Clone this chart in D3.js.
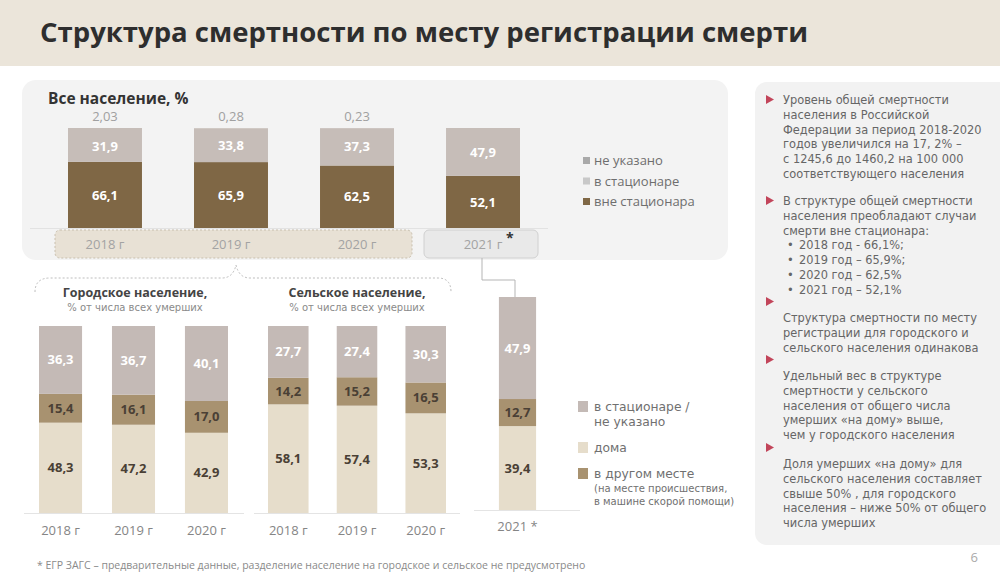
<!DOCTYPE html>
<html><head><meta charset="utf-8">
<script src="https://cdn.jsdelivr.net/npm/d3@7"></script>
<style>
html,body{margin:0;padding:0;background:#fff;}
svg{display:block;font-family:"Open Sans","Noto Sans",sans-serif;}
.dv{font-family:"DejaVu Sans",sans-serif;}
</style></head>
<body>
<svg id="c" width="1000" height="581"></svg>
<script>
// ---------- DATA ----------
const topYears = ["2018 г", "2019 г", "2020 г", "2021 г"];
const topOutside = [66.1, 65.9, 62.5, 52.1];      // вне стационара
const topHospital = [31.9, 33.8, 37.3, 47.9];     // в стационаре
const topUnspecified = [2.03, 0.28, 0.23, 0];     // не указано
const topUnspecifiedLabels = ["2,03", "0,28", "0,23", ""];

const subYears = ["2018 г", "2019 г", "2020 г"];
const urbanHome = [48.3, 47.2, 42.9];
const urbanOther = [15.4, 16.1, 17.0];
const urbanHospital = [36.3, 36.7, 40.1];
const ruralHome = [58.1, 57.4, 53.3];
const ruralOther = [14.2, 15.2, 16.5];
const ruralHospital = [27.7, 27.4, 30.3];
const y2021Label = ["2021 *"];
const home2021 = [39.4];
const other2021 = [12.7];
const hospital2021 = [47.9];

const topLegend = ["не указано", "в стационаре", "вне стационара"];
const subLegend = [["в стационаре /", "не указано"], ["дома"], ["в другом месте"]];
const subLegendNote = ["(на месте происшествия,", "в машине скорой помощи)"];

const notes = [
  ["Уровень общей смертности", "населения в Российской", "Федерации за период 2018-2020", "годов увеличился на 17, 2%  –", "с 1245,6 до 1460,2 на 100 000", "соответствующего населения"],
  ["В структуре общей смертности", "населения преобладают случаи", "смерти вне стационара:"],
  ["Структура смертности по месту", "регистрации для городского и", "сельского населения одинакова"],
  ["Удельный вес в структуре", "смертности у сельского", "населения от общего числа", "умерших «на дому» выше,", "чем у городского населения"],
  ["Доля умерших «на дому» для", "сельского населения составляет", "свыше 50% , для городского", "населения – ниже 50% от общего", "числа умерших"]
];
const bulletItems = ["2018 год - 66,1%;", "2019 год – 65,9%;", "2020 год – 62,5%", "2021 год – 52,1%"];

// ---------- STYLE ----------
const C = {
  outside: "#7f6745", hospital: "#c6bdb8",
  home: "#e6ddcb", other: "#a89270", subHosp: "#c4bab6",
  darkText: "#4a4035"
};
const fmt = v => String(v.toFixed(1)).replace(".", ",");

const svg = d3.select("#c");

// title band
svg.append("rect").attr("x", 0).attr("y", 0).attr("width", 1000).attr("height", 66).attr("fill", "#ebe5da");
svg.append("text").attr("x", 40).attr("y", 42).attr("font-size", 27.5).attr("font-weight", 700)
  .attr("fill", "#2e2e2e").text("Структура смертности по месту регистрации смерти");

// panels
svg.append("rect").attr("x", 22).attr("y", 80).attr("width", 706).attr("height", 180).attr("rx", 14).attr("fill", "#f3f3f3");
svg.append("rect").attr("x", 755).attr("y", 82).attr("width", 260).attr("height", 463).attr("rx", 12).attr("fill", "#f2f2f2");

svg.append("text").attr("x", 48).attr("y", 104).attr("font-size", 15.5).attr("font-weight", 700)
  .attr("fill", "#333").text("Все население, %");

// ---------- TOP CHART ----------
const xTop = d3.scaleBand().domain(topYears).range([68, 520]).paddingInner(0.413).paddingOuter(0);
const yTop = d3.scaleLinear().domain([0, 100]).range([228, 128]);

// year label boxes
svg.append("rect").attr("x", 55).attr("y", 230).attr("width", 357).attr("height", 28).attr("rx", 5)
  .attr("fill", "#e8e1d5").attr("stroke", "#c8bfae").attr("stroke-dasharray", "2,2");
svg.append("rect").attr("x", 424).attr("y", 230).attr("width", 114).attr("height", 28).attr("rx", 5)
  .attr("fill", "#e9e9e9").attr("stroke", "#d0d0d0");

svg.append("line").attr("x1", 30).attr("x2", 548).attr("y1", 228.5).attr("y2", 228.5).attr("stroke", "#e2e2e2");

const topG = svg.append("g");
topYears.forEach((yr, i) => {
  const x = xTop(yr), w = xTop.bandwidth();
  const a = topOutside[i], b = topHospital[i], c = topUnspecified[i];
  topG.append("rect").attr("x", x).attr("y", yTop(a)).attr("width", w).attr("height", yTop(0) - yTop(a)).attr("fill", C.outside);
  topG.append("rect").attr("x", x).attr("y", yTop(a + b)).attr("width", w).attr("height", yTop(a) - yTop(a + b)).attr("fill", C.hospital);
  if (c > 0) topG.append("rect").attr("x", x).attr("y", yTop(Math.min(100, a + b + c))).attr("width", w)
    .attr("height", Math.max(0, yTop(a + b) - yTop(Math.min(100, a + b + c)))).attr("fill", C.hospital);
  const cx = x + w / 2;
  topG.append("text").attr("x", cx).attr("y", (yTop(0) + yTop(a)) / 2).attr("dy", "0.35em").attr("text-anchor", "middle")
    .attr("font-size", 13).attr("font-weight", 700).attr("fill", "#fff").text(fmt(a));
  topG.append("text").attr("x", cx).attr("y", (yTop(a) + yTop(a + b)) / 2).attr("dy", "0.35em").attr("text-anchor", "middle")
    .attr("font-size", 13).attr("font-weight", 700).attr("fill", "#fff").text(fmt(b));
  if (topUnspecifiedLabels[i]) topG.append("text").attr("x", cx).attr("y", 121).attr("text-anchor", "middle")
    .attr("font-size", 13).attr("fill", "#a0a0a0").text(topUnspecifiedLabels[i]);
  topG.append("text").attr("x", cx).attr("y", 249).attr("text-anchor", "middle").attr("font-size", 13)
    .attr("fill", "#a3a3a3").text(yr);
});
svg.append("text").attr("x", 506).attr("y", 243).attr("font-size", 14).attr("font-weight", 700).attr("fill", "#333").text("*");

// top legend
const topLegColors = ["#a9a9a9", "#c8c8c8", C.outside];
topLegend.forEach((t, i) => {
  const y = 165 + i * 20.5;
  svg.append("rect").attr("x", 583).attr("y", y - 8).attr("width", 7).attr("height", 7).attr("fill", topLegColors[i]);
  svg.append("text").attr("x", 594).attr("y", y).attr("font-size", 13).attr("fill", "#6e6e6e").text(t);
});

// bracket and connector
svg.append("path")
  .attr("d", "M35,292 Q35,278 50,278 L222,278 Q233,278 236,265 Q239,278 250,278 L438,278 Q451,278 451,292")
  .attr("fill", "none").attr("stroke", "#bdbdbd").attr("stroke-width", 1).attr("stroke-dasharray", "2,2");
svg.append("path").attr("d", "M482,258 L482,280 L515,280 L515,297")
  .attr("fill", "none").attr("stroke", "#b5b5b5").attr("stroke-width", 1);

// ---------- SUB CHARTS ----------
const ySub = d3.scaleLinear().domain([0, 100]).range([513, 326]);
function stackChart(years, home, other, hosp, xRange, yScale, lineRange, labelY) {
  const xs = d3.scaleBand().domain(years).range(xRange).paddingInner(0.41).paddingOuter(0);
  const g = svg.append("g");
  g.append("line").attr("x1", lineRange[0]).attr("x2", lineRange[1]).attr("y1", yScale(0) + 0.5).attr("y2", yScale(0) + 0.5).attr("stroke", "#e4e4e4");
  years.forEach((yr, i) => {
    const x = xs(yr), w = xs.bandwidth(), cx = x + w / 2;
    const h = home[i], o = other[i], s = hosp[i];
    g.append("rect").attr("x", x).attr("y", yScale(h)).attr("width", w).attr("height", yScale(0) - yScale(h)).attr("fill", C.home);
    g.append("rect").attr("x", x).attr("y", yScale(h + o)).attr("width", w).attr("height", yScale(h) - yScale(h + o)).attr("fill", C.other);
    g.append("rect").attr("x", x).attr("y", yScale(100)).attr("width", w).attr("height", yScale(h + o) - yScale(100)).attr("fill", C.subHosp);
    const lab = (y0, y1, v, col) => g.append("text").attr("x", cx).attr("y", (yScale(y0) + yScale(y1)) / 2).attr("dy", "0.35em")
      .attr("text-anchor", "middle").attr("font-size", 13).attr("font-weight", 700).attr("fill", col).text(fmt(v));
    lab(0, h, h, C.darkText);
    lab(h, h + o, o, C.darkText);
    lab(h + o, 100, s, "#fff");
    g.append("text").attr("x", cx).attr("y", labelY).attr("text-anchor", "middle").attr("font-size", 13)
      .attr("fill", "#858585").text(yr);
  });
}
stackChart(subYears, urbanHome, urbanOther, urbanHospital, [39, 228], ySub, [24, 244], 535);
stackChart(subYears, ruralHome, ruralOther, ruralHospital, [268, 446], ySub, [254, 460], 535);
const y21 = d3.scaleLinear().domain([0, 100]).range([510, 297]);
stackChart(y2021Label, home2021, other2021, hospital2021, [486, 549], y21, [474, 580], 531);

// sub headers
[["Городское население,", 135], ["Сельское население,", 357]].forEach(([t, x]) => {
  svg.append("text").attr("x", x).attr("y", 297).attr("text-anchor", "middle")
    .attr("font-size", 12.5).attr("font-weight", 700).attr("fill", "#444").text(t);
  svg.append("text").attr("class", "dv").attr("x", x).attr("y", 311).attr("text-anchor", "middle")
    .attr("font-size", 10).attr("fill", "#8a8a8a").text("% от числа всех умерших");
});

// sub legend
const subLegY = [411, 452, 478];
const subLegCol = [C.subHosp, C.home, C.other];
subLegend.forEach((lines, k) => {
  svg.append("rect").attr("x", 578).attr("y", subLegY[k] - 10).attr("width", 10).attr("height", 11).attr("fill", subLegCol[k]);
  const tx = svg.append("text").attr("class", "dv").attr("x", 594).attr("y", subLegY[k]).attr("font-size", 12.3).attr("fill", "#707070");
  lines.forEach((l, j) => tx.append("tspan").attr("x", 594).attr("dy", j ? 15 : 0).text(l));
  if (k === 2) subLegendNote.forEach((l) => tx.append("tspan").attr("x", 594).attr("dy", 13.5).attr("font-size", 10).text(l));
});

// ---------- RIGHT NOTES ----------
const noteStartY = [104, 205, 322, 380, 468];
const triY = [104, 205, 306, 364, 452];
const LH = 14.8;
notes.forEach((lines, k) => {
  const y0 = noteStartY[k];
  const ty = triY[k];
  svg.append("path").attr("d", `M766,${ty - 9} L774,${ty - 4.5} L766,${ty}Z`).attr("fill", "#c2455a");
  const tx = svg.append("text").attr("class", "dv").attr("x", 783).attr("y", y0).attr("font-size", 11.4).attr("fill", "#666");
  lines.forEach((l, j) => tx.append("tspan").attr("x", 783).attr("dy", j ? LH : 0).text(l));
  if (k === 1) bulletItems.forEach((b) => {
    tx.append("tspan").attr("x", 787).attr("dy", LH).text("•");
    tx.append("tspan").attr("x", 799).text(b);
  });
});

svg.append("text").attr("x", 978).attr("y", 562).attr("text-anchor", "end").attr("font-size", 13).attr("fill", "#aaa").text("6");

svg.append("text").attr("x", 37).attr("y", 569).attr("font-size", 10.5).attr("fill", "#8a8a8a")
  .text("* ЕГР ЗАГС – предварительные данные, разделение население на городское и сельское не предусмотрено");
</script>
</body></html>
